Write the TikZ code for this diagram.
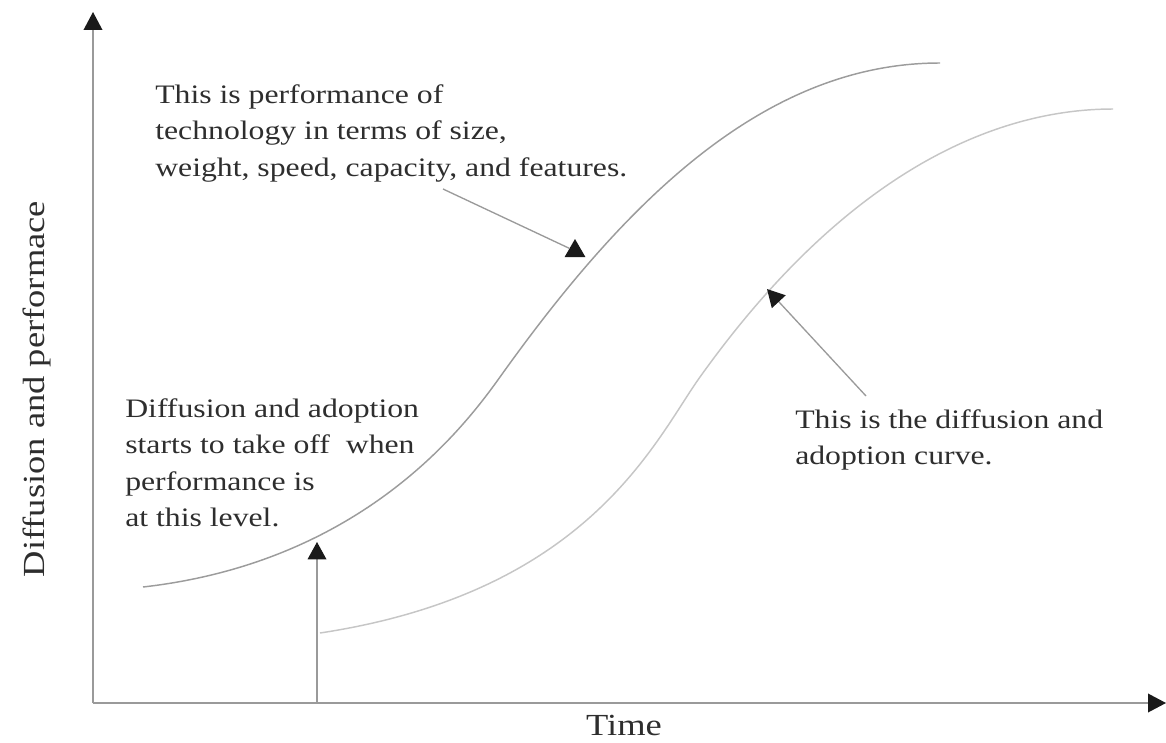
\documentclass[tikz,border=0pt]{standalone}
\usepackage{fontspec}
\setmainfont{Liberation Serif}[FakeStretch=1.19]
\usetikzlibrary{arrows.meta,shapes.geometric}
\definecolor{axisgray}{HTML}{9A9A9A}
\definecolor{curvetop}{HTML}{9C9C9C}
\definecolor{curvelow}{HTML}{C6C6C6}
\definecolor{txt}{HTML}{2E2E2E}
\definecolor{tipc}{HTML}{1A1A1A}
\tikzset{
  axis/.style={draw=axisgray, line width=1.1pt, -{Triangle[length=13.5pt,width=14pt,color=tipc]}},
  pointer/.style={draw=axisgray, line width=1pt, -{Triangle[length=13pt,width=14pt,color=tipc]}},
  plain/.style={draw=axisgray, line width=1pt},
  curve/.style={line width=1.1pt},
  note/.style={anchor=north west, inner sep=0pt, align=left, text=txt,
    font=\fontsize{20}{27.4}\selectfont},
  axlabel/.style={inner sep=0pt, text=txt, font=\fontsize{23}{26}\selectfont},
  uptri/.style={regular polygon, regular polygon sides=3, fill=tipc, draw=none,
    minimum size=18pt, inner sep=0pt}
}
\begin{document}
\begin{tikzpicture}[x=0.75pt,y=-0.75pt]
\useasboundingbox (0,0) rectangle (1166,742);
% axes
\coordinate (O) at (93,703);
\coordinate (ytip) at (93,12);
\coordinate (xtip) at (1166,703);
\draw[axis] (O) -- (ytip);
\draw[axis] (O) -- (xtip);
% performance curve
\coordinate (t0) at (143,587);
\coordinate (t1) at (500,377);
\coordinate (t2) at (940,63);
\draw[curve, curvetop] (t0) .. controls (363,562) and (465,426) .. (t1)
  .. controls (620,209) and (760,63) .. (t2);
% diffusion and adoption curve
\coordinate (l0) at (320,633);
\coordinate (l1) at (700,377);
\coordinate (l2) at (1113,109);
\draw[curve, curvelow] (l0) .. controls (590,592) and (655,440) .. (l1)
  .. controls (850,167) and (1000,109) .. (l2);
% labels
\node[axlabel, anchor=base] (time) at (624,735) {Time};
\node[axlabel, rotate=90] (ylab) at (37,389) {Diffusion and performace};
\node[note] (perf) at (155,84) {This is performance of\\technology in terms of size,\\weight, speed, capacity, and features.};
\node[note] (diff) at (125,398) {Diffusion and adoption\\starts to take off~ when\\performance is\\at this level.};
\node[note] (adopt) at (795,409) {This is the diffusion and\\adoption curve.};
% pointers
\coordinate (vbase) at (317,703);
\coordinate (vtip) at (317,542);
\draw[pointer] (vbase) -- (vtip);
\coordinate (p1s) at (443,189);
\node[uptri] (tri1) at (575,251) {};
\draw[plain] (p1s) -- (tri1);
\coordinate (p2s) at (866,396);
\coordinate (p2t) at (767,289);
\draw[pointer] (p2s) -- (p2t);
\end{tikzpicture}
\end{document}
